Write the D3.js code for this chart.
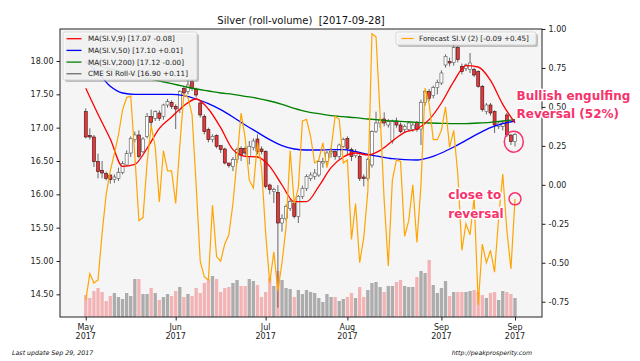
<!DOCTYPE html>
<html><head><meta charset="utf-8">
<script src="https://cdn.jsdelivr.net/npm/d3@7"></script>
<style>
body{margin:0;background:#fff;}
svg{display:block;font-family:"DejaVu Sans",sans-serif;}
</style></head><body>
<svg id="c" width="640" height="361"></svg>
<script>
// ---------------- DATA ----------------
const title = "Silver (roll-volume)  [2017-09-28]";
const openP  = [17.24,16.88,16.86,16.49,16.36,16.31,16.29,16.22,16.24,16.33, 16.44,16.62,16.82,16.89,16.64,16.87,17.17,17.14,17.22,17.17, 17.34,17.38,17.32,17.27,17.59,17.54,17.69,17.58,17.37,17.17, 16.97,16.82,16.88,16.73,16.68,16.47,16.42,16.52,16.69,16.69, 16.57,16.70,16.83,16.68,16.64,16.14,16.04,16.03,15.57,15.64, 15.79,15.87,15.67,15.97,16.09,16.24,16.27,16.29,16.47,16.49, 16.62,16.64,16.57,16.72,16.84,16.67,16.58,16.57,16.26,16.24, 16.44,16.94,17.07,17.13,17.04,16.80,17.10,17.04,16.97,16.97, 16.97,17.08,16.98,17.38,17.54,17.48,17.60,17.67,17.94,17.99, 17.98,18.20,17.92,17.89,17.87,17.87,17.84,17.62,17.24,17.34, 17.24,17.02,17.02,17.19,16.89,16.79];
const highP  = [17.29,16.99,16.89,16.61,16.50,16.34,16.30,16.30,16.40,16.50, 16.66,16.87,16.94,16.96,16.86,17.22,17.27,17.26,17.26,17.36, 17.43,17.41,17.35,17.56,17.63,17.72,17.80,17.60,17.40,17.20, 17.00,16.90,16.90,16.73,16.70,16.47,16.56,16.70,16.72,16.72, 16.80,16.84,16.90,16.72,16.66,16.16,16.10,16.14,15.70,15.85, 15.93,15.90,15.99,16.13,16.30,16.33,16.38,16.51,16.55,16.65, 16.70,16.66,16.76,16.85,16.87,16.70,16.68,16.60,16.30,16.55, 16.96,17.24,17.14,17.23,17.13,17.12,17.15,17.08,17.05,17.10, 17.07,17.10,17.42,17.56,17.58,17.63,17.72,17.86,18.10,18.05, 18.27,18.23,17.96,17.96,18.12,17.90,17.86,17.64,17.37,17.37, 17.26,17.10,17.10,17.22,16.90,16.92];
const lowP   = [16.84,16.82,16.41,16.24,16.24,16.21,16.16,16.17,16.20,16.30, 16.42,16.56,16.78,16.54,16.62,16.84,17.02,17.10,17.10,17.12, 17.30,17.28,16.98,17.22,17.49,17.50,17.55,17.45,17.15,16.90, 16.78,16.78,16.69,16.62,16.45,16.40,16.35,16.47,16.50,16.58, 16.45,16.66,16.60,16.60,16.09,16.00,15.87,14.30,15.44,15.60, 15.75,15.64,15.57,15.93,16.05,16.20,16.22,16.26,16.40,16.45, 16.55,16.52,16.52,16.70,16.60,16.50,16.55,16.20,16.12,16.20, 16.40,16.92,17.00,17.02,17.00,16.76,17.00,16.92,16.92,16.95, 16.94,16.94,16.74,17.33,17.40,17.44,17.50,17.64,17.90,17.92, 17.93,17.98,17.80,17.85,17.82,17.76,17.60,17.24,17.20,17.18, 16.92,16.98,16.96,16.86,16.74,16.72];
const closeP = [16.86,16.86,16.49,16.34,16.32,16.24,16.22,16.26,16.33,16.46, 16.61,16.84,16.89,16.57,16.83,17.17,17.08,17.24,17.14,17.34, 17.39,17.32,17.28,17.54,17.52,17.64,17.59,17.49,17.19,16.94, 16.82,16.87,16.72,16.67,16.47,16.43,16.52,16.67,16.59,16.62, 16.72,16.80,16.64,16.64,16.12,16.07,16.07,15.57,15.64,15.82, 15.89,15.67,15.97,16.09,16.27,16.29,16.32,16.49,16.49,16.62, 16.64,16.57,16.74,16.82,16.69,16.57,16.64,16.24,16.24,16.52, 16.94,17.07,17.12,17.07,17.09,17.10,17.04,16.94,17.02,17.07, 17.04,16.97,17.38,17.54,17.44,17.60,17.68,17.82,18.07,17.97, 18.20,18.02,17.84,17.94,17.97,17.79,17.62,17.27,17.34,17.22, 17.04,17.07,17.07,16.89,16.79,16.90];
const volume = [22,19,26,29,25,16,21,24,20,18, 24,21,38,38,23,23,29,24,17,20, 23,21,26,30,20,23,21,29,24,34, 38,41,38,25,29,30,34,37,31,31, 38,36,32,20,25,39,31,46,37,29, 28,20,27,23,27,25,24,19,15,23, 20,20,16,18,20,24,19,30,20,27, 34,35,30,25,31,31,35,37,31,30, 30,40,46,44,57,32,24,29,36,21, 25,25,25,25,26,27,25,22,19,24, 25,17,26,25,23,19];
const forecast = [-0.74,-0.57,-0.63,-0.61,-0.31,-0.06,0.09,0.20,0.32,0.48, 0.56,0.57,0.19,-0.23,-0.21,0.14,0.38,0.24,-0.11,0.22, 0.09,0.09,-0.12,0.25,0.58,0.56,0.45,0.00,-0.49,-0.59, -0.61,-0.13,-0.46,-0.49,-0.38,-0.32,-0.12,0.16,0.46,0.30, 0.03,-0.02,0.27,0.11,-0.31,-0.63,-0.43,-0.68,-0.50,-0.27, 0.22,-0.12,-0.02,0.41,0.42,0.31,0.14,0.16,0.27,0.11, 0.23,0.44,0.42,0.14,0.16,-0.35,-0.12,-0.50,-0.34,-0.04, 0.97,0.95,0.45,-0.10,-0.52,0.03,0.16,0.15,-0.33,-0.23, 0.00,-0.37,0.00,0.62,0.52,0.29,0.29,0.35,0.50,0.24, 0.35,0.07,-0.42,-0.25,-0.32,-0.08,-0.77,-0.38,-0.50,-0.42, -0.56,-0.21,0.07,-0.29,-0.54,-0.09];
const maIndex = [0,3,6,9,12,15,18,21,24,27,30,33,36,39,42,45,48,51,54,57,60,63,66,69,72,75,78,81,84,87,90,93,96,99,102,105];
const ma9   = [17.59,17.20,16.83,16.42,16.45,16.69,16.99,17.16,17.33,17.43,17.28,17.00,16.67,16.57,16.56,16.42,16.14,15.89,15.89,16.12,16.40,16.56,16.62,16.59,16.66,16.80,16.93,16.98,17.12,17.37,17.69,17.93,17.91,17.71,17.35,17.07];
const ma50  = [18.00,17.82,17.62,17.52,17.50,17.50,17.50,17.50,17.48,17.43,17.36,17.27,17.16,17.04,16.93,16.82,16.73,16.68,16.665,16.665,16.67,16.67,16.64,16.60,16.565,16.535,16.52,16.515,16.55,16.62,16.71,16.81,16.91,17.00,17.06,17.10];
const ma200 = [17.97,17.93,17.88,17.84,17.79,17.74,17.70,17.66,17.62,17.58,17.55,17.52,17.50,17.47,17.44,17.40,17.35,17.29,17.24,17.21,17.18,17.165,17.15,17.13,17.115,17.10,17.09,17.08,17.07,17.065,17.06,17.06,17.07,17.08,17.10,17.12];
const xTickIndex = [0,22,44,64,87,105];
const xTickMonth = ["May","Jun","Jul","Aug","Sep","Sep"];
const xTickYear  = ["2017","2017","2017","2017","2017","2017"];
const priceTicks = [14.5,15.0,15.5,16.0,16.5,17.0,17.5,18.0];
const fcTicks = [-0.75,-0.5,-0.25,0,0.25,0.5,0.75,1.0];
const legendLabels = ["MA(SI.V,9) [17.07 -0.08]","MA(SI.V,50) [17.10 +0.01]","MA(SI.V,200) [17.12 -0.00]","CME SI Roll-V [16.90 +0.11]"];
const legendColors = ["#ff0000","#0000ff","#008000","#333333"];
const forecastLabel = "Forecast SI.V (2) [-0.09 +0.45]";
const noteA = ["Bullish engulfing","Reversal (52%)"];
const noteB = ["close to","reversal"];
const footLeft = "Last update Sep 29, 2017";
const footRight = "http://peakprosperity.com";

// ---------------- LAYOUT ----------------
const L=60,R=542,T=29,B=317;
const svg=d3.select("#c");
const x=d3.scaleLinear().domain([-6.3,111.6]).range([L,R]);
const y=d3.scaleLinear().domain([14.16,18.48]).range([B,T]);
const yF=d3.scaleLinear().domain([-0.848,1.0]).range([B,T]);
const yV=d3.scaleLinear().domain([0,288]).range([B,T]);

svg.append("rect").attr("width",640).attr("height",361).attr("fill","#fff");
svg.append("rect").attr("x",L).attr("y",T).attr("width",R-L).attr("height",B-T).attr("fill","#f5f5f5");
svg.append("defs").append("clipPath").attr("id","clip").append("rect").attr("x",L).attr("y",T).attr("width",R-L).attr("height",B-T);
const g=svg.append("g").attr("clip-path","url(#clip)");

const idx=d3.range(closeP.length);
const up=i=>closeP[i]>=openP[i];
const bw=3.3, cw=3.0;

// volume
g.append("g").selectAll("rect").data(idx).join("rect")
 .attr("x",i=>x(i)-bw/2).attr("width",bw)
 .attr("y",i=>yV(volume[i])).attr("height",i=>yV(0)-yV(volume[i]))
 .attr("fill",i=>up(i)?"#acacac":"#f3b3b5");

// candles
const cg=g.append("g");
cg.selectAll("line").data(idx).join("line")
 .attr("x1",i=>x(i)).attr("x2",i=>x(i))
 .attr("y1",i=>y(highP[i])).attr("y2",i=>y(lowP[i]))
 .attr("stroke","#444").attr("stroke-width",0.8);
cg.selectAll("rect").data(idx).join("rect")
 .attr("x",i=>x(i)-cw/2).attr("width",cw)
 .attr("y",i=>y(Math.max(openP[i],closeP[i])))
 .attr("height",i=>Math.max(0.8,Math.abs(y(openP[i])-y(closeP[i]))))
 .attr("fill",i=>up(i)?"#ffffff":"#e5383b")
 .attr("stroke",i=>up(i)?"#555":"#3a1010").attr("stroke-width",0.6);

// moving averages
const maLine=d3.line().x((d,k)=>x(maIndex[k])).y(d=>y(d)).curve(d3.curveMonotoneX);
[[ma200,"#008000"],[ma50,"#0000ff"],[ma9,"#ff0000"]].forEach(([s,c])=>{
  g.append("path").attr("d",maLine(s)).attr("fill","none").attr("stroke",c).attr("stroke-width",1.3);
});

// forecast
const fLine=d3.line().x((d,i)=>x(i)).y(d=>yF(d));
g.append("path").attr("d",fLine(forecast)).attr("fill","none").attr("stroke","#ffa500").attr("stroke-width",1.2);

// axes
const fmt=v=>v.toFixed(2);
const axL=svg.append("g").attr("transform",`translate(${L},0)`).call(d3.axisLeft(y).tickValues(priceTicks).tickFormat(fmt).tickSize(3.5).tickPadding(3));
const axR=svg.append("g").attr("transform",`translate(${R},0)`).call(d3.axisRight(yF).tickValues(fcTicks).tickFormat(fmt).tickSize(3.5).tickPadding(3));
const axB=svg.append("g").attr("transform",`translate(0,${B})`).call(d3.axisBottom(x).tickValues(xTickIndex).tickFormat("").tickSize(3.5));
[axL,axR,axB].forEach(a=>{a.select(".domain").remove();a.selectAll("text").attr("font-size",8).attr("font-family","DejaVu Sans").attr("fill","#222");a.selectAll("line").attr("stroke","#222");});
const bt=svg.append("g");
xTickIndex.forEach((v,k)=>{
  const t=bt.append("text").attr("x",x(v)).attr("text-anchor","middle").attr("font-size",8).attr("fill","#222");
  t.append("tspan").attr("x",x(v)).attr("y",330).text(xTickMonth[k]);
  t.append("tspan").attr("x",x(v)).attr("y",339).text(xTickYear[k]);
});
svg.append("rect").attr("x",L).attr("y",T).attr("width",R-L).attr("height",B-T).attr("fill","none").attr("stroke","#222").attr("stroke-width",1);

// title
svg.append("text").attr("x",(L+R)/2).attr("y",23.5).attr("text-anchor","middle").attr("font-size",10).attr("fill","#111").style("white-space","pre").text(title);

// legend 1
const lg=svg.append("g");
lg.append("rect").attr("x",65).attr("y",34).attr("width",134).attr("height",48).attr("rx",2).attr("fill","#888").attr("opacity",0.5);
lg.append("rect").attr("x",63).attr("y",32).attr("width",134).attr("height",48).attr("rx",2).attr("fill","#fafafa").attr("fill-opacity",0.85).attr("stroke","#cfcfcf").attr("stroke-width",0.8);
legendLabels.forEach((s,k)=>{
  const yy=38.7+k*11.7;
  lg.append("line").attr("x1",66.5).attr("x2",81.5).attr("y1",yy).attr("y2",yy).attr("stroke",legendColors[k]).attr("stroke-width",k<3?1.3:0.9);
  lg.append("text").attr("x",88).attr("y",yy+2.6).attr("font-size",7.2).attr("fill","#222").text(s);
});
// legend 2
const lg2=svg.append("g");
lg2.append("rect").attr("x",398).attr("y",34).attr("width",140).attr("height",13).attr("rx",2).attr("fill","#888").attr("opacity",0.5);
lg2.append("rect").attr("x",396).attr("y",32).attr("width",140).attr("height",13).attr("rx",2).attr("fill","#fafafa").attr("fill-opacity",0.85).attr("stroke","#cfcfcf").attr("stroke-width",0.8);
lg2.append("line").attr("x1",401.5).attr("x2",413.5).attr("y1",38.5).attr("y2",38.5).attr("stroke","#ffa500").attr("stroke-width",1.2);
lg2.append("text").attr("x",419).attr("y",41.1).attr("font-size",7.2).attr("fill","#222").text(forecastLabel);

// annotations (drawn over the right tick labels, as in the reference)
const pink="#f7336c";
const ann=svg.append("g").attr("font-weight","bold").attr("font-size",12).attr("fill",pink)
  .attr("stroke","#fff").attr("stroke-width",3).attr("paint-order","stroke").attr("stroke-linejoin","round");
ann.append("text").attr("x",x(105)+1.5).attr("y",100).text(noteA[0]);
ann.append("text").attr("x",x(105)+1.5).attr("y",117.5).text(noteA[1]);
ann.append("text").attr("x",448.3).attr("y",199).text(noteB[0]);
ann.append("text").attr("x",448.3).attr("y",217.5).text(noteB[1]);
svg.append("ellipse").attr("cx",x(104.7)).attr("cy",y(16.79)).attr("rx",9.5).attr("ry",10.5).attr("fill","none").attr("stroke",pink).attr("stroke-width",1.5);
svg.append("circle").attr("cx",x(105)).attr("cy",yF(forecast[105])).attr("r",6).attr("fill","none").attr("stroke",pink).attr("stroke-width",1.5);

// footer
svg.append("text").attr("x",12).attr("y",354.5).attr("font-size",6.3).attr("font-style","italic").attr("fill","#111").text(footLeft);
svg.append("text").attr("x",451.7).attr("y",354.5).attr("font-size",6.2).attr("font-style","italic").attr("fill","#111").text(footRight);
</script>
</body></html>
